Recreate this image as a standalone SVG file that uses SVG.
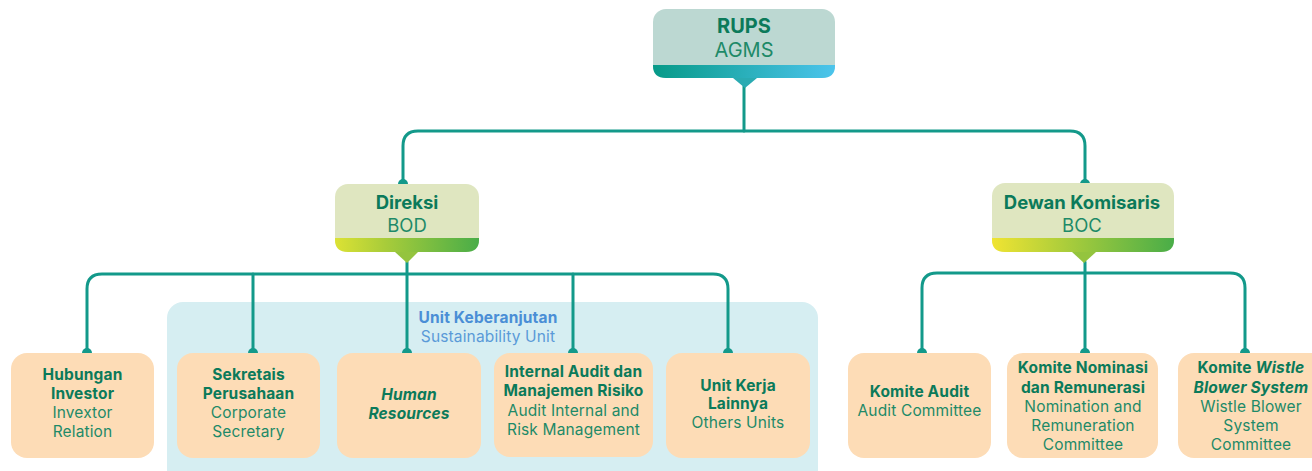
<svg xmlns="http://www.w3.org/2000/svg" width="1312" height="471" viewBox="0 0 1312 471">
<defs>
<linearGradient id="gTeal" x1="0" y1="0" x2="1" y2="0"><stop offset="0" stop-color="#079a88"/><stop offset="1" stop-color="#4cc4ec"/></linearGradient>
<linearGradient id="gGreen" x1="0" y1="0" x2="1" y2="0"><stop offset="0" stop-color="#dce234"/><stop offset="0.35" stop-color="#a8cc3a"/><stop offset="1" stop-color="#49ad48"/></linearGradient>
<linearGradient id="gGreen2" x1="0" y1="0" x2="1" y2="0"><stop offset="0" stop-color="#f0e432"/><stop offset="0.35" stop-color="#b4d03a"/><stop offset="1" stop-color="#49ad48"/></linearGradient>
<style>
.ln{fill:none;stroke:#13998a;stroke-width:3;stroke-linecap:round}
.dot{fill:#13998a}
.leaf{fill:#fddcb6}
.t{font-family:Inter,"Liberation Sans",sans-serif;text-anchor:middle;fill:#0b7a5a}
.b{font-weight:700}
.s{fill:#1e8a68}
.i{font-style:italic}
.f15{font-size:15.5px;letter-spacing:0.15px}
.f17{font-size:18.5px}
.f20{font-size:20px}
</style>
</defs>
<rect width="1312" height="471" fill="#ffffff"/>
<g id="sustainability-container">
<rect x="167" y="302" width="651" height="185" rx="16" fill="#d6eef2"/>
<text class="t b f15" x="488" y="323" style="fill:#4a8ed6">Unit Keberanjutan</text>
<text class="t f15" x="488" y="342" style="fill:#5a9ad8">Sustainability Unit</text>
</g>
<g id="connectors">
<path class="ln" d="M744 86 V131"/>
<path class="ln" d="M403 184 V146 Q403 131 418 131 H1070 Q1085 131 1085 146 V184"/>
<circle class="dot" cx="403" cy="184" r="5"/>
<circle class="dot" cx="1085" cy="184" r="5"/>
<path class="ln" d="M407 262 V353"/>
<path class="ln" d="M87 353 V289 Q87 274 102 274 H713 Q728 274 728 289 V353"/>
<path class="ln" d="M253 274 V353"/>
<path class="ln" d="M573 274 V353"/>
<path class="ln" d="M1085 262 V353"/>
<path class="ln" d="M922 353 V288 Q922 273 937 273 H1230 Q1245 273 1245 288 V353"/>
<circle class="dot" cx="87" cy="353" r="5"/>
<circle class="dot" cx="253" cy="353" r="5"/>
<circle class="dot" cx="407" cy="353" r="5"/>
<circle class="dot" cx="573" cy="353" r="5"/>
<circle class="dot" cx="728" cy="353" r="5"/>
<circle class="dot" cx="922" cy="353" r="5"/>
<circle class="dot" cx="1085" cy="353" r="5"/>
<circle class="dot" cx="1245" cy="353" r="5"/>
</g>
<g id="rups">
<rect x="653" y="9" width="182" height="69" rx="13" fill="#bcd8d2"/>
<path d="M653 65 H835 V66 Q835 78 822 78 H666 Q653 78 653 66 Z" fill="url(#gTeal)"/>
<path d="M733 78 H757 L745 88 Z" fill="#2aabb2"/>
<text class="t b f20" x="744" y="33">RUPS</text>
<text class="t f20 s" x="744" y="57">AGMS</text>
</g>
<g id="direksi">
<rect x="335" y="184" width="144" height="68" rx="13" fill="#dfe6c0"/>
<path d="M335 238 H479 V240 Q479 252 466 252 H348 Q335 252 335 240 Z" fill="url(#gGreen)"/>
<path d="M395 252 H418 L407 263 Z" fill="#94c43e"/>
<text class="t b f17" x="407" y="209">Direksi</text>
<text class="t f17 s" x="407" y="232">BOD</text>
</g>
<g id="dewan-komisaris">
<rect x="992" y="183" width="182" height="69" rx="13" fill="#dfe6c0"/>
<path d="M992 238 H1174 V240 Q1174 252 1161 252 H1005 Q992 252 992 240 Z" fill="url(#gGreen2)"/>
<path d="M1072 252 H1096 L1084 263 Z" fill="#94c43e"/>
<text class="t b f17" x="1082" y="209">Dewan Komisaris</text>
<text class="t f17 s" x="1082" y="232">BOC</text>
</g>
<g id="hubungan-investor">
<rect class="leaf" x="11" y="353" width="143" height="105" rx="16"/>
<text class="t b f15" x="82.5" y="380">Hubungan</text>
<text class="t b f15" x="82.5" y="399">Investor</text>
<text class="t f15 s" x="82.5" y="418">Invextor</text>
<text class="t f15 s" x="82.5" y="437">Relation</text>
</g>
<g id="sekretaris-perusahaan">
<rect class="leaf" x="177" y="353" width="143" height="105" rx="16"/>
<text class="t b f15" x="248.5" y="380">Sekretais</text>
<text class="t b f15" x="248.5" y="399">Perusahaan</text>
<text class="t f15 s" x="248.5" y="418">Corporate</text>
<text class="t f15 s" x="248.5" y="437">Secretary</text>
</g>
<g id="human-resources">
<rect class="leaf" x="337" y="353" width="144" height="105" rx="16"/>
<text class="t b i f15" x="409" y="400">Human</text>
<text class="t b i f15" x="409" y="419">Resources</text>
</g>
<g id="internal-audit">
<rect class="leaf" x="494" y="353" width="159" height="104" rx="16"/>
<text class="t b f15" x="573.5" y="377">Internal Audit dan</text>
<text class="t b f15" x="573.5" y="396">Manajemen Risiko</text>
<text class="t f15 s" x="573.5" y="416">Audit Internal and</text>
<text class="t f15 s" x="573.5" y="435">Risk Management</text>
</g>
<g id="unit-kerja-lainnya">
<rect class="leaf" x="666" y="353" width="144" height="105" rx="16"/>
<text class="t b f15" x="738" y="391">Unit Kerja</text>
<text class="t b f15" x="738" y="409">Lainnya</text>
<text class="t f15 s" x="738" y="428">Others Units</text>
</g>
<g id="komite-audit">
<rect class="leaf" x="848" y="353" width="143" height="105" rx="16"/>
<text class="t b f15" x="919.5" y="397">Komite Audit</text>
<text class="t f15 s" x="919.5" y="416">Audit Committee</text>
</g>
<g id="komite-nominasi">
<rect class="leaf" x="1007" y="353" width="151" height="105" rx="16"/>
<text class="t b f15" x="1083" y="373">Komite Nominasi</text>
<text class="t b f15" x="1083" y="393">dan Remunerasi</text>
<text class="t f15 s" x="1083" y="412">Nomination and</text>
<text class="t f15 s" x="1083" y="431">Remuneration</text>
<text class="t f15 s" x="1083" y="450">Committee</text>
</g>
<g id="komite-wistle">
<rect class="leaf" x="1178" y="353" width="150" height="105" rx="16"/>
<text class="t b f15" x="1251" y="373">Komite <tspan class="i">Wistle</tspan></text>
<text class="t b i f15" x="1251" y="393">Blower System</text>
<text class="t f15 s" x="1251" y="412">Wistle Blower</text>
<text class="t f15 s" x="1251" y="431">System</text>
<text class="t f15 s" x="1251" y="450">Committee</text>
</g>
</svg>
